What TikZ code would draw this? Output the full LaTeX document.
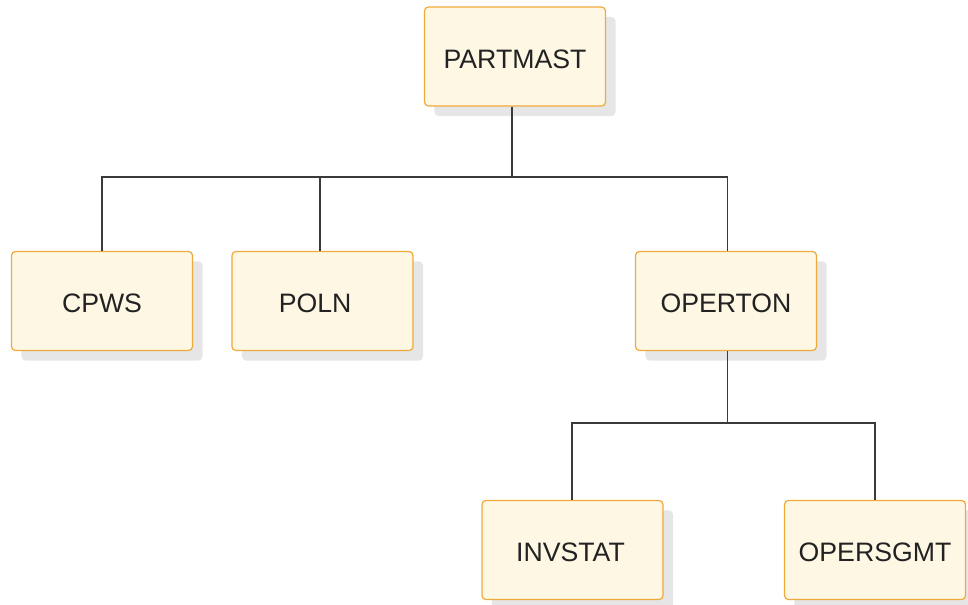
\documentclass[tikz,border=0pt]{standalone}
\usepackage{fontspec}
\setmainfont{Liberation Sans}
\usetikzlibrary{shadows}
\definecolor{boxfill}{HTML}{FDF7E4}
\definecolor{boxline}{HTML}{F0AA3C}
\definecolor{shadowgray}{HTML}{E6E6E7}
\definecolor{connline}{HTML}{3A3A3A}
\definecolor{txt}{HTML}{222222}
\tikzset{
  segbox/.style={draw=boxline, fill=boxfill, line width=0.9pt, rounded corners=3pt,
    minimum width=135.8pt, minimum height=74.3pt, inner sep=0pt,
    font=\fontsize{20pt}{24pt}\selectfont, text=txt,
    text height=17.7pt, text depth=0pt,
    drop shadow={shadow xshift=7.5pt, shadow yshift=-7.5pt, fill=shadowgray, opacity=1}},
  conn/.style={draw=connline, line width=0.9pt}
}
\begin{document}
\begin{tikzpicture}[x=0.75pt,y=-0.75pt]
\useasboundingbox (0,0) rectangle (968,605);
\node[segbox] (PARTMAST) at (515,56.5) {PARTMAST};
\node[segbox] (CPWS) at (102,301) {CPWS};
\node[segbox] (POLN) at (322.5,301) {POLN\kern11pt};
\node[segbox] (OPERTON) at (726,301) {OPERTON};
\node[segbox] (INVSTAT) at (572.5,550) {INVSTAT\kern3pt};
\node[segbox] (OPERSGMT) at (875,550) {OPERSGMT};
\coordinate (j1) at (512,177);
\coordinate (j3) at (727.5,177);
\coordinate (j2) at (727.5,423);
\draw[conn] (PARTMAST.south -| j1) -- (j1);
\draw[conn] (CPWS.north) -- (CPWS.north |- j1) -- (j3) -- (OPERTON.north -| j3);
\draw[conn] ([xshift=-1.9pt]POLN.north) -- ([xshift=-1.9pt]POLN.north |- j1);
\draw[conn] (OPERTON.south -| j2) -- (j2);
\draw[conn] ([xshift=-0.4pt]INVSTAT.north) -- ([xshift=-0.4pt]INVSTAT.north |- j2) -- (OPERSGMT.north |- j2) -- (OPERSGMT.north);
\end{tikzpicture}
\end{document}
